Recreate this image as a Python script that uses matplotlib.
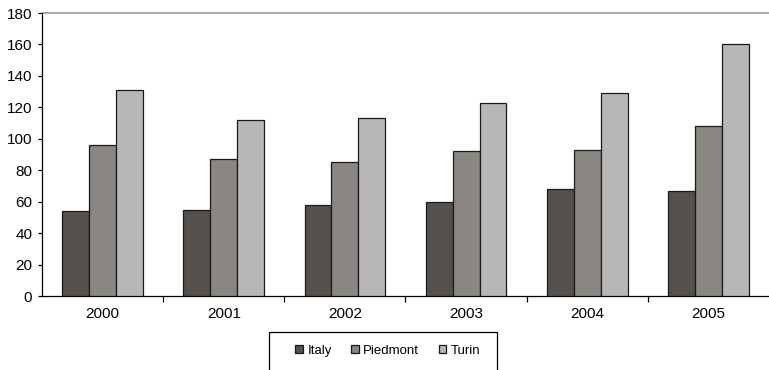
import numpy as np
import matplotlib.pyplot as plt
from matplotlib.patches import Rectangle

plt.rcParams['font.family'] = ['Liberation Sans', 'DejaVu Sans']

# values per year
years = ['2000', '2001', '2002', '2003', '2004', '2005']
italy = [54, 55, 58, 60, 68, 67]
piedmont = [96, 87, 85.5, 92, 93, 108]
turin = [131, 112, 113, 122.5, 129, 160]

series = [('Italy', italy, '#55504c'),
          ('Piedmont', piedmont, '#8a8682'),
          ('Turin', turin, '#b8b6b7')]

W, H = 769, 370
fig = plt.figure(figsize=(W / 100, H / 100), dpi=100)
ax = fig.add_axes([42 / W, 1 - 296 / H, 1 - 42 / W, 283 / H])

x = np.arange(len(years))
width = 1 / 4.5
for i, (name, vals, col) in enumerate(series):
    ax.bar(x + (i - 1) * width, vals, width, color=col, edgecolor='#1a1a1a',
           linewidth=0.9, label=name, zorder=3)

ax.set_xlim(-0.5, len(years) - 0.5)
ax.set_ylim(0, 180)
ax.set_yticks(np.arange(0, 181, 20))
ax.set_xticks(x)
ax.set_xticklabels(years)
ax.set_xticks(np.arange(0.5, len(years) - 0.5, 1), minor=True)

ax.tick_params(axis='y', direction='out', length=3, width=0.9, labelsize=11, pad=4)
ax.tick_params(axis='x', which='major', length=0, labelsize=11, pad=8)
ax.tick_params(axis='x', which='minor', direction='out', length=4, width=0.9)

for s in ['right', 'top']:
    ax.spines[s].set_visible(False)
ax.spines['left'].set_linewidth(0.9)
ax.spines['bottom'].set_linewidth(0.9)
ax.axhline(180, color='#999999', linewidth=1.2, clip_on=False)

# legend box runs off the bottom edge
fig.patches.append(Rectangle((269 / W, -0.05), 228 / W, 0.05 + 1 - 332 / H,
                             transform=fig.transFigure, fill=False,
                             edgecolor='black', linewidth=0.9))
fig.legend(loc='center', bbox_to_anchor=(388 / W, 1 - 351 / H), ncol=3,
           fontsize=9.5, frameon=False,
           handlelength=0.55, handleheight=0.55, handletextpad=0.35,
           columnspacing=1.5, borderpad=0, borderaxespad=0)

fig.savefig('out.png', dpi=100)
